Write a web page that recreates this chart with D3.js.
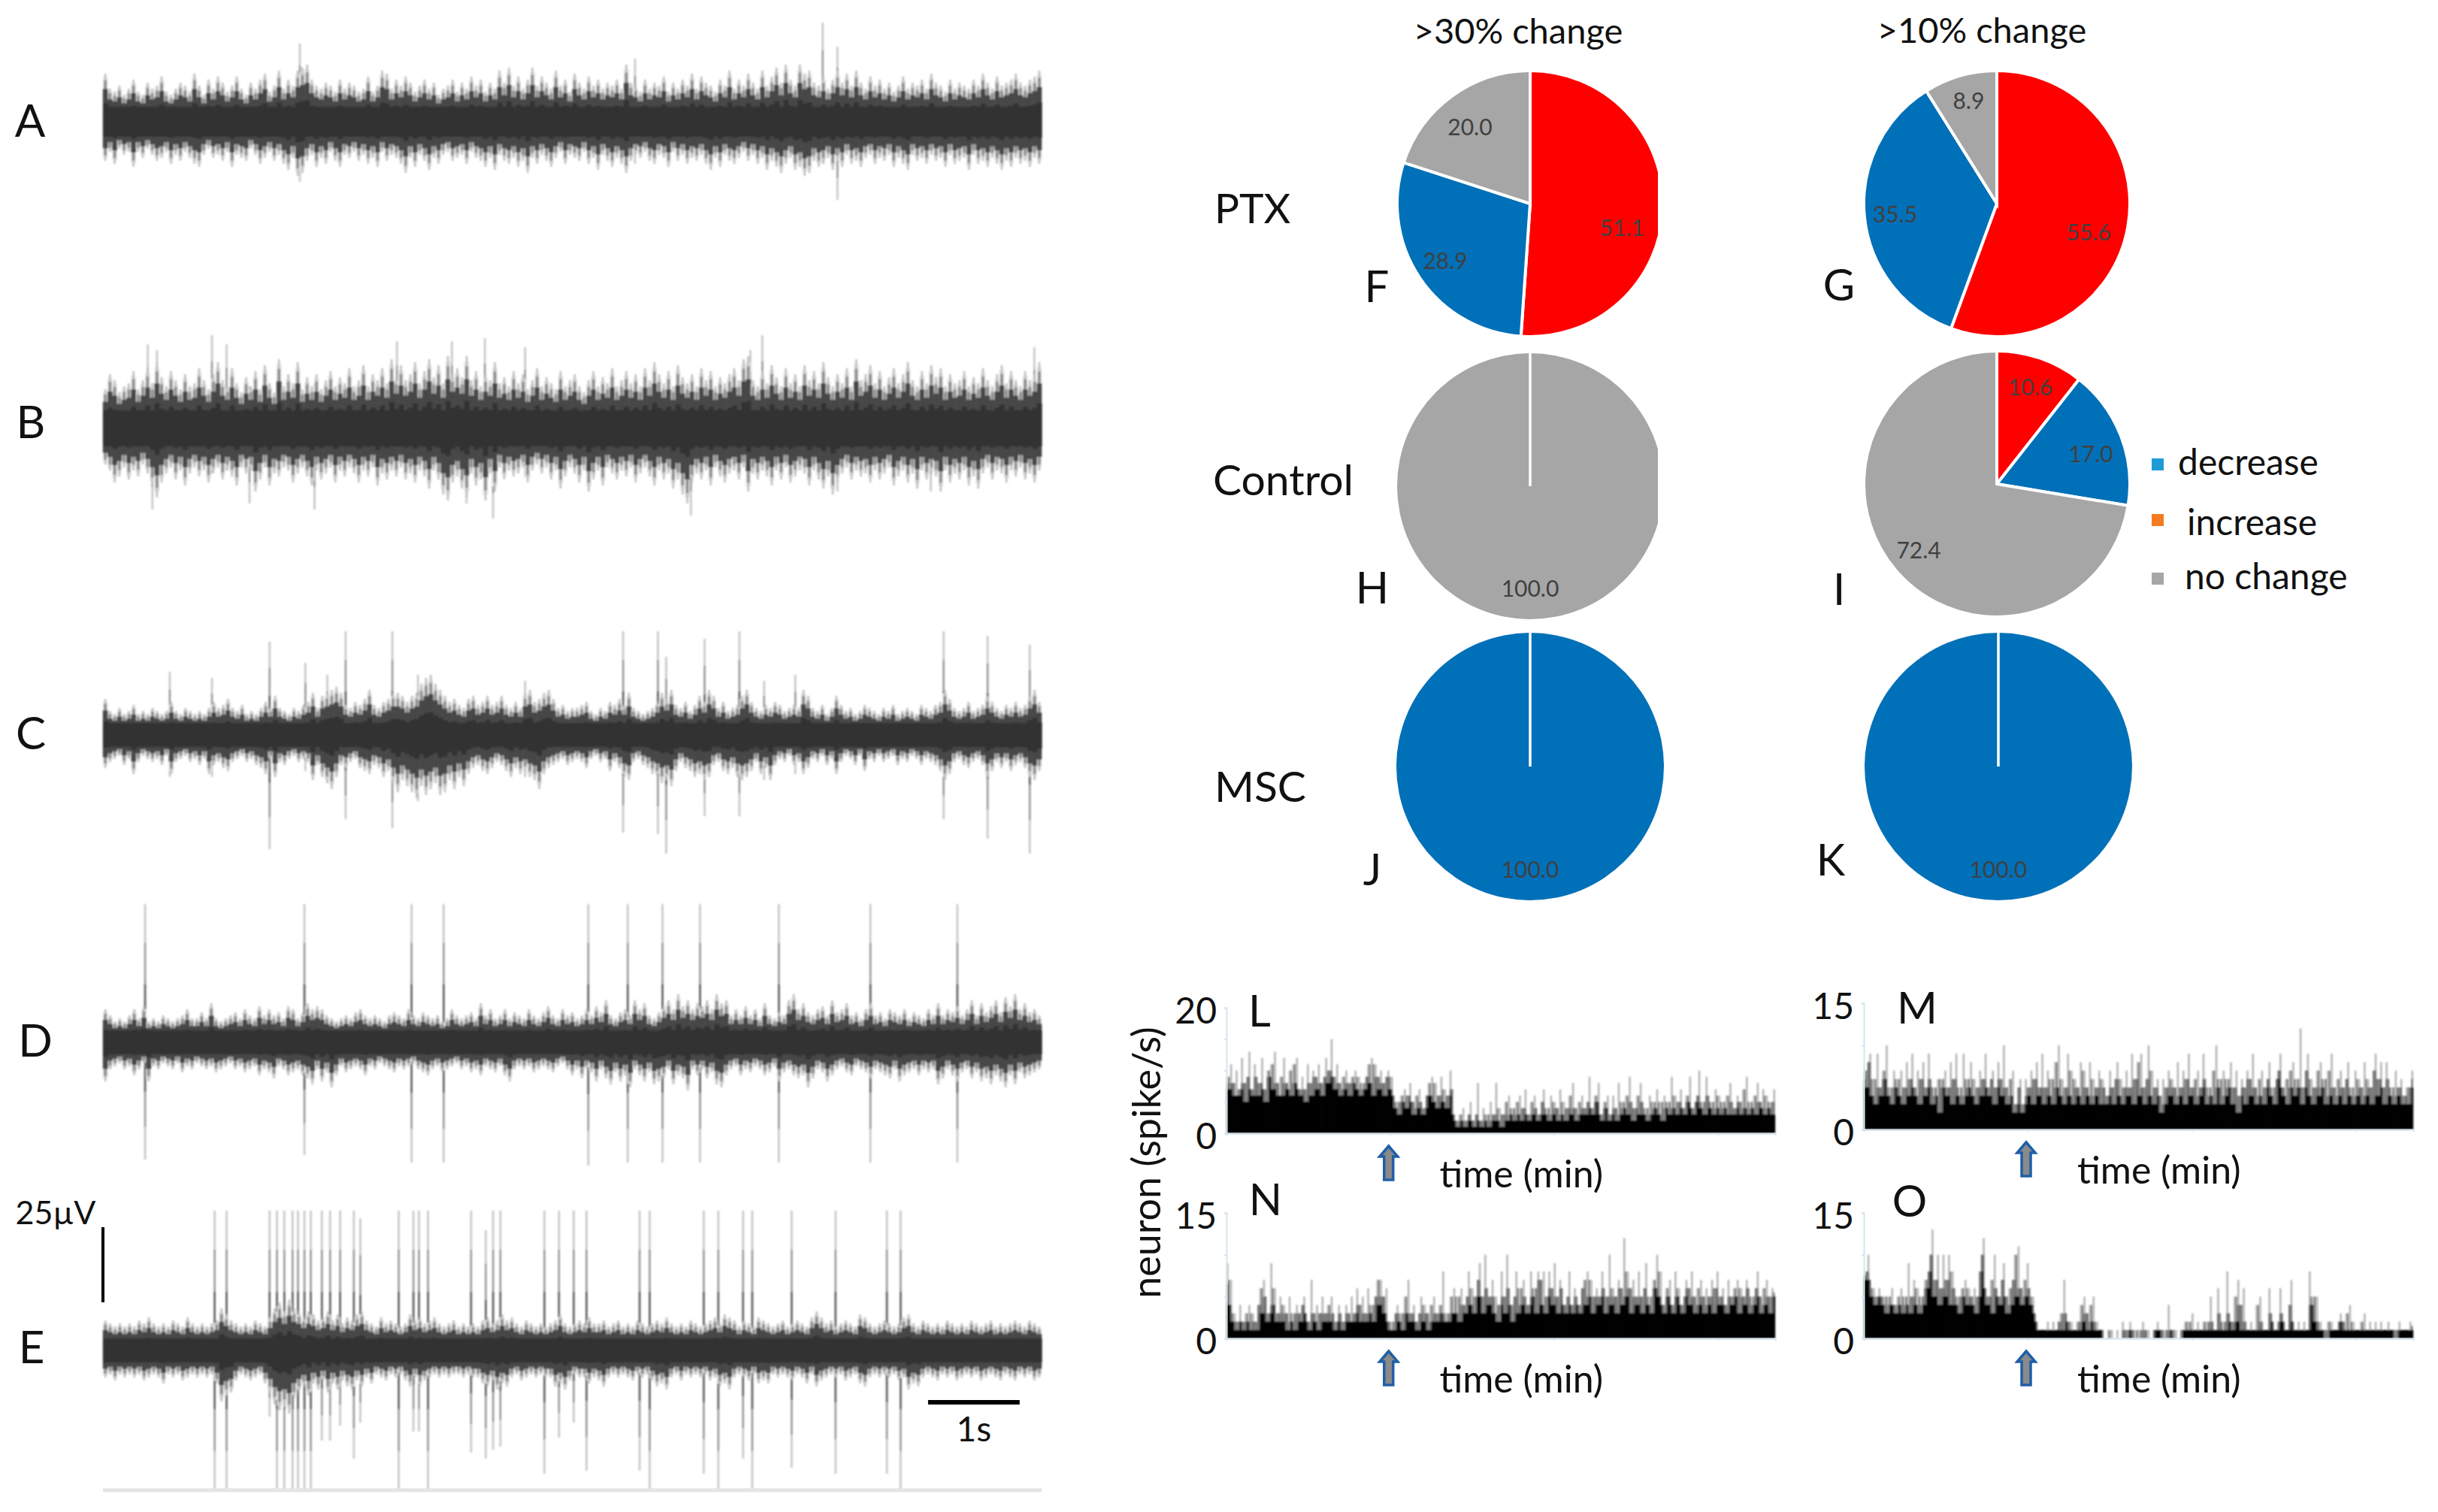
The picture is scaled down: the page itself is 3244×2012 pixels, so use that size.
<!DOCTYPE html>
<html lang="en">

<head>
    <meta charset="UTF-8">
    <title>Spike traces, response pies and firing rate histograms</title>
    <script src="https://d3js.org/d3.v7.min.js"></script>
    <style>
        body {
            margin: 0;
            background: #fff;
        }

        text {
            font-family: Lato, "Open Sans", sans-serif;
            fill: #111;
        }
    </style>
</head>

<body>

    <script>
        // Voltage traces: peak of the noise per time bin above and below the baseline (uV)
        const traceAUp = [
            16, 11, 10, 12, 9, 11, 14, 10, 9, 13, 11, 12, 15, 10, 9, 11, 13, 12, 10, 16, 12, 9, 14, 11, 15,
            13, 10, 12, 15, 11, 9, 13, 11, 14, 16, 10, 12, 17, 11, 14, 12, 17, 18, 19, 14, 12, 11, 13, 12, 10,
            14, 11, 13, 12, 10, 11, 15, 10, 12, 17, 16, 11, 14, 12, 15, 13, 10, 12, 14, 11, 13, 9, 11, 12, 14,
            10, 13, 11, 15, 12, 14, 10, 13, 11, 17, 13, 18, 12, 15, 11, 14, 18, 12, 15, 13, 11, 17, 12, 14, 10,
            16, 13, 11, 15, 12, 14, 11, 13, 12, 14, 11, 19, 13, 12, 10, 14, 11, 13, 12, 15, 10, 13, 11, 14, 12,
            16, 11, 15, 13, 12, 10, 14, 12, 17, 11, 14, 12, 16, 13, 11, 17, 12, 15, 18, 13, 19, 14, 12, 19, 16,
            17, 13, 12, 15, 11, 14, 17, 13, 16, 12, 17, 13, 11, 15, 12, 14, 11, 13, 10, 12, 15, 11, 13, 12, 14,
            11, 16, 13, 12, 10, 14, 11, 13, 12, 11, 14, 12, 16, 13, 11, 15, 12, 13, 14, 16, 13, 12, 14, 15, 17
        ];
        const traceADown = [
            13, 10, 14, 9, 11, 10, 15, 10, 12, 9, 11, 13, 12, 10, 14, 11, 13, 10, 12, 14, 15, 11, 9, 12, 11,
            13, 10, 15, 11, 12, 13, 9, 11, 14, 12, 10, 13, 11, 14, 16, 12, 18, 17, 13, 11, 15, 12, 14, 10, 13,
            15, 11, 12, 10, 13, 11, 14, 12, 15, 10, 13, 11, 12, 14, 17, 12, 15, 11, 13, 16, 12, 14, 11, 10, 13,
            12, 11, 14, 10, 12, 13, 15, 12, 16, 11, 13, 14, 12, 15, 13, 17, 12, 14, 11, 13, 15, 12, 10, 14, 11,
            12, 13, 10, 14, 12, 16, 11, 13, 15, 12, 14, 17, 13, 11, 12, 10, 13, 14, 11, 12, 15, 10, 13, 11, 14,
            12, 13, 11, 14, 16, 12, 15, 11, 13, 14, 12, 10, 13, 11, 14, 12, 16, 13, 15, 17, 14, 12, 16, 15, 18,
            17, 13, 15, 14, 12, 16, 13, 15, 11, 14, 13, 15, 12, 11, 14, 12, 13, 11, 15, 12, 14, 16, 11, 13, 12,
            14, 11, 13, 12, 15, 11, 14, 13, 12, 16, 11, 14, 13, 15, 12, 14, 16, 13, 15, 12, 14, 13, 15, 12, 14
        ];
        const traceBUp = [
            13, 18, 16, 12, 14, 15, 19, 13, 16, 20, 15, 22, 17, 14, 19, 16, 13, 18, 14, 15, 20, 16, 13, 18, 22,
            16, 14, 20, 15, 12, 17, 14, 19, 13, 21, 15, 12, 23, 14, 18, 15, 22, 13, 17, 14, 18, 13, 16, 19, 14,
            17, 15, 20, 14, 16, 21, 14, 18, 16, 20, 15, 23, 17, 21, 16, 18, 22, 15, 19, 23, 17, 21, 15, 24, 18,
            20, 17, 24, 16, 19, 14, 18, 16, 22, 15, 17, 14, 19, 15, 18, 13, 16, 20, 14, 17, 15, 13, 19, 14, 16,
            18, 14, 12, 16, 19, 14, 17, 15, 20, 14, 16, 19, 15, 18, 14, 20, 16, 22, 18, 15, 19, 14, 21, 17, 15,
            18, 14, 20, 16, 19, 14, 17, 15, 18, 20, 16, 23, 24, 16, 14, 19, 15, 21, 17, 14, 20, 15, 18, 14, 21,
            16, 19, 15, 22, 17, 14, 18, 15, 20, 14, 23, 16, 18, 21, 15, 19, 14, 17, 20, 15, 18, 22, 16, 14, 19,
            15, 21, 17, 20, 14, 18, 15, 16, 19, 14, 17, 15, 20, 16, 14, 18, 21, 15, 19, 16, 14, 19, 16, 18, 22
        ];
        const traceBDown = [
            12, 14, 18, 16, 13, 17, 14, 16, 12, 15, 19, 23, 18, 15, 13, 17, 14, 19, 15, 13, 16, 14, 18, 15, 13,
            17, 14, 16, 19, 13, 15, 14, 21, 17, 13, 19, 15, 16, 13, 14, 18, 15, 13, 16, 19, 14, 17, 15, 13, 18,
            14, 16, 13, 15, 18, 14, 16, 13, 19, 15, 17, 14, 16, 13, 17, 15, 18, 14, 16, 20, 14, 17, 22, 24, 18,
            16, 20, 23, 15, 19, 17, 24, 15, 21, 13, 17, 14, 16, 15, 13, 18, 14, 12, 15, 13, 17, 14, 20, 16, 13,
            15, 18, 14, 21, 17, 14, 19, 13, 15, 17, 14, 16, 13, 18, 15, 13, 16, 19, 14, 17, 15, 20, 17, 22, 25,
            18, 15, 17, 14, 19, 13, 16, 18, 15, 14, 17, 13, 21, 15, 17, 14, 16, 19, 14, 17, 13, 18, 16, 14, 15,
            19, 14, 17, 20, 16, 22, 18, 15, 13, 17, 14, 16, 15, 18, 14, 17, 15, 13, 19, 16, 14, 18, 15, 20, 14,
            17, 15, 16, 21, 14, 18, 15, 17, 14, 19, 16, 20, 15, 13, 17, 14, 15, 18, 14, 16, 13, 17, 15, 18, 14
        ];
        const traceCUp = [
            12, 8, 7, 9, 7, 8, 10, 7, 8, 7, 9, 8, 7, 8, 11, 8, 7, 9, 8, 7, 8, 7, 9, 11, 9,
            10, 12, 9, 8, 10, 7, 8, 7, 9, 11, 9, 13, 9, 8, 7, 9, 8, 10, 11, 14, 9, 13, 14, 15, 16,
            14, 10, 9, 11, 10, 12, 15, 10, 9, 11, 12, 14, 14, 13, 11, 13, 14, 17, 19, 20, 17, 15, 13, 11, 12,
            10, 9, 12, 13, 10, 11, 13, 10, 11, 13, 10, 9, 11, 9, 14, 15, 11, 12, 14, 15, 12, 9, 10, 8, 9,
            9, 10, 11, 8, 7, 9, 8, 11, 10, 12, 10, 14, 9, 8, 7, 8, 9, 11, 14, 12, 15, 10, 9, 11, 8, 10, 13,
            11, 15, 13, 9, 11, 8, 9, 10, 13, 15, 11, 9, 8, 10, 9, 11, 10, 8, 9, 10, 9, 15, 13, 9, 8, 10, 7,
            9, 13, 10, 8, 9, 7, 8, 10, 9, 8, 7, 9, 8, 10, 7, 8, 9, 8, 7, 10, 9, 8, 10, 11, 15,
            12, 9, 8, 9, 11, 8, 9, 10, 13, 11, 9, 8, 10, 9, 11, 9, 10, 13, 15, 11
        ];
        const traceCDown = [
            11, 9, 8, 7, 10, 8, 13, 9, 7, 8, 9, 8, 10, 7, 13, 9, 8, 7, 9, 8, 10, 8, 13, 10, 9,
            11, 12, 9, 8, 7, 9, 8, 10, 11, 13, 8, 14, 9, 10, 8, 7, 9, 8, 9, 15, 10, 14, 16, 18, 14,
            10, 11, 9, 8, 11, 12, 13, 10, 11, 14, 12, 16, 19, 15, 17, 19, 21, 17, 20, 18, 16, 20, 19, 15, 18,
            14, 17, 13, 11, 10, 12, 13, 11, 9, 10, 12, 14, 11, 13, 12, 14, 15, 18, 13, 11, 10, 9, 8, 10, 9,
            8, 9, 11, 8, 7, 9, 8, 12, 9, 11, 14, 15, 9, 8, 10, 11, 13, 14, 16, 15, 17, 12, 9, 11, 12, 14, 13,
            15, 14, 10, 9, 12, 13, 11, 14, 15, 14, 12, 9, 13, 11, 15, 10, 8, 9, 7, 10, 9, 13, 11, 8, 9, 7, 10,
            8, 13, 9, 7, 8, 10, 7, 12, 8, 9, 7, 9, 8, 7, 10, 8, 9, 7, 8, 10, 8, 9, 10, 12, 15,
            13, 9, 8, 10, 11, 9, 8, 10, 14, 12, 9, 11, 9, 12, 10, 9, 11, 14, 15, 12
        ];
        const traceDUp = [
            11, 9, 7, 8, 7, 9, 11, 8, 12, 7, 8, 7, 9, 8, 7, 8, 9, 11, 8, 8, 10, 8, 13, 8, 7,
            8, 9, 10, 8, 11, 9, 8, 12, 9, 11, 9, 10, 8, 12, 11, 8, 10, 13, 11, 12, 11, 9, 8, 7, 8,
            9, 8, 10, 11, 9, 8, 9, 8, 7, 9, 10, 9, 8, 11, 9, 8, 10, 9, 8, 9, 7, 8, 11, 9, 8,
            9, 10, 8, 13, 9, 11, 8, 9, 11, 8, 10, 9, 8, 11, 9, 8, 10, 12, 9, 8, 11, 9, 10, 8, 9,
            11, 9, 12, 10, 14, 9, 8, 10, 11, 9, 14, 11, 13, 9, 8, 10, 12, 14, 11, 16, 12, 14, 11, 13, 12,
            14, 11, 16, 13, 14, 9, 11, 9, 12, 9, 11, 8, 13, 9, 8, 10, 9, 14, 16, 11, 13, 10, 9, 11, 12,
            9, 14, 10, 11, 13, 9, 10, 8, 11, 13, 9, 10, 8, 11, 10, 9, 11, 8, 10, 9, 8, 11, 9, 13, 9,
            11, 10, 12, 9, 11, 14, 9, 13, 10, 12, 14, 10, 15, 12, 16, 11, 13, 10, 11, 9
        ];
        const traceDDown = [
            13, 9, 8, 7, 9, 8, 11, 9, 7, 13, 8, 9, 7, 8, 9, 7, 10, 8, 9, 7, 8, 9, 8, 10, 9,
            8, 7, 9, 8, 10, 9, 8, 11, 9, 10, 12, 8, 9, 11, 10, 9, 11, 12, 14, 9, 13, 10, 15, 11, 8,
            10, 9, 8, 9, 11, 8, 9, 7, 8, 9, 10, 8, 9, 8, 7, 9, 10, 11, 9, 8, 10, 9, 8, 7, 9,
            8, 10, 9, 11, 8, 9, 10, 8, 11, 13, 9, 8, 9, 8, 10, 9, 8, 9, 10, 8, 7, 9, 11, 9, 12,
            9, 10, 13, 9, 12, 14, 10, 13, 11, 15, 9, 11, 13, 10, 14, 13, 12, 9, 14, 11, 12, 16, 9, 11, 9,
            12, 10, 14, 15, 11, 9, 8, 11, 9, 10, 8, 9, 11, 10, 8, 13, 10, 9, 11, 12, 11, 15, 12, 9, 10,
            13, 11, 9, 8, 10, 11, 8, 9, 10, 12, 9, 10, 11, 12, 9, 13, 11, 10, 9, 11, 9, 10, 9, 14, 12,
            9, 11, 13, 10, 9, 12, 10, 13, 12, 14, 11, 13, 15, 11, 14, 10, 12, 11, 10, 9
        ];
        const traceEUp = [
            10, 9, 8, 9, 8, 9, 8, 10, 9, 11, 9, 8, 9, 8, 10, 9, 8, 11, 9, 8, 9, 8, 9, 10, 14, 12, 10, 9,
            8, 9, 8, 10, 9, 8, 11, 14, 16, 13, 17, 14, 13, 11, 13, 12, 10, 11, 13, 10, 12, 9, 11, 10, 12, 13,
            10, 9, 8, 11, 9, 10, 9, 8, 9, 12, 10, 11, 9, 10, 11, 9, 8, 9, 10, 8, 9, 8, 9, 8, 10,
            11, 9, 10, 12, 10, 11, 9, 8, 10, 9, 8, 9, 8, 9, 10, 12, 9, 8, 9, 10, 9, 11, 9, 9, 10, 8,
            9, 10, 8, 9, 8, 10, 9, 8, 9, 10, 9, 11, 9, 8, 9, 8, 10, 9, 8, 9, 10, 11, 9, 12, 11, 10,
            8, 10, 9, 8, 11, 10, 9, 8, 9, 10, 8, 9, 10, 9, 8, 11, 13, 11, 9, 10, 8, 9, 10, 9, 8, 12, 11,
            9, 8, 9, 10, 9, 8, 9, 11, 12, 9, 8, 10, 9, 8, 9, 8, 10, 9, 8, 9, 8, 10, 9, 8, 9, 10, 8,
            9, 8, 9, 10, 9, 8, 10, 9, 8
        ];
        const traceEDown = [
            9, 8, 10, 8, 9, 8, 9, 8, 10, 9, 8, 9, 11, 8, 9, 8, 10, 9, 8, 9, 8, 9, 8, 11, 17, 15, 14, 10,
            8, 9, 10, 9, 8, 11, 14, 18, 20, 19, 21, 16, 14, 12, 15, 11, 13, 10, 14, 11, 13, 10, 12, 13, 10, 12,
            9, 11, 8, 9, 10, 8, 9, 8, 10, 12, 9, 12, 10, 9, 8, 9, 8, 9, 8, 8, 9, 8, 9, 9, 11,
            12, 10, 13, 11, 12, 9, 8, 10, 9, 8, 9, 8, 9, 9, 12, 11, 13, 10, 8, 9, 9, 11, 9, 10, 12, 9,
            8, 9, 8, 9, 10, 8, 9, 8, 10, 12, 11, 13, 9, 8, 10, 8, 9, 8, 9, 8, 10, 9, 12, 11, 13, 9,
            8, 9, 10, 8, 11, 10, 11, 8, 9, 8, 9, 10, 8, 9, 11, 8, 12, 10, 9, 8, 9, 8, 10, 9, 8, 11, 12,
            9, 8, 9, 8, 9, 8, 10, 9, 13, 11, 12, 9, 8, 9, 10, 8, 9, 8, 10, 9, 8, 9, 8, 10, 9, 8, 9,
            10, 8, 9, 10, 8, 9, 8, 10, 9
        ];

        // Spikes over the noise: [time s, height above uV, depth below uV]
        const spikesA = [[2.15, 26, 20], [5.81, 21, 14], [7.86, 33, 14], [8.02, 25, 26]];
        const spikesB = [[0.49, 28, 14], [0.54, 14, 27], [0.59, 26, 16], [1.19, 31, 15], [1.35, 28, 14], [1.60, 14, 25],
            [2.31, 15, 27], [3.21, 29, 15], [3.81, 29, 15], [3.97, 15, 25], [4.17, 30, 16], [4.26, 15, 30], [4.61, 27, 16],
            [6.42, 16, 29], [7.07, 26, 15], [7.20, 31, 14], [8.02, 15, 21], [9.04, 14, 21], [10.17, 27, 14]];
        const spikesC = [[0.73, 21, 14], [1.19, 19, 14], [1.82, 31, 38], [2.21, 24, 12], [2.45, 20, 16], [2.65, 34.5, 28],
            [3.16, 34.5, 31], [3.44, 20, 22], [4.61, 18, 14], [5.68, 34.5, 32.5], [6.06, 34.5, 33], [6.15, 26, 39.5],
            [6.57, 32, 27], [6.95, 34.5, 27], [7.22, 18, 15], [7.56, 20, 13], [9.18, 34.5, 28], [9.66, 33, 34.5], [10.12, 30, 39.5]];
        const spikesD = [[0.46, 46, 39], [2.20, 46, 37.5], [3.37, 46, 40], [3.72, 46, 40], [5.30, 46, 41], [5.73, 46, 40],
            [6.11, 46, 40], [6.52, 46, 40], [7.38, 46, 40], [8.38, 46, 40], [9.33, 46, 40]];
        const spikesE = [[1.22, 46.5, 46.5], [1.35, 46.5, 46.5], [1.82, 46.5, 22], [1.90, 46.5, 46.5], [1.98, 46.5, 46.5],
            [2.07, 46.5, 46.5], [2.13, 46.5, 46.5], [2.20, 46.5, 46.5], [2.27, 46.5, 46.5], [2.39, 46.5, 30], [2.48, 46.5, 30],
            [2.59, 46.5, 25], [2.74, 46.5, 36], [2.81, 44, 24], [3.23, 46.5, 46.5], [3.39, 46.5, 27], [3.45, 46.5, 27],
            [3.55, 46.5, 46.5], [4.02, 46.5, 34], [4.18, 40, 36], [4.26, 46.5, 33], [4.34, 46.5, 32], [4.82, 46.5, 41],
            [4.98, 46.5, 29], [5.14, 46.5, 24], [5.28, 46.5, 40], [5.86, 46.5, 40], [5.97, 46.5, 46.5], [6.56, 46.5, 41],
            [6.72, 46.5, 46.5], [6.99, 46.5, 36], [7.09, 46.5, 46.5], [7.52, 46.5, 39], [8.00, 46.5, 41], [8.56, 46.5, 41],
            [8.71, 46.5, 46.5]];

        // Pie values in percent: increase (red), decrease (blue), no change (grey)
        const pieCategories = ['increase', 'decrease', 'no change'];
        const pieF = [51.1, 28.9, 20.0];
        const pieG = [55.6, 35.5, 8.9];
        const pieH = [0, 0, 100.0];
        const pieI = [10.6, 17.0, 72.4];
        const pieJ = [0, 100.0, 0];
        const pieK = [0, 100.0, 0];
        const legendLabels = ['decrease', 'increase', 'no change'];
        const legendColors = ['#1e9bd7', '#f47b20', '#a6a6a6'];

        // Firing rate histograms (spike/s per time bin)
        const rateL = [
            9, 7, 11, 8, 6, 10, 6, 7, 12, 8, 5, 9, 13, 7, 6, 11, 9, 6, 8, 12, 7, 5, 10, 9, 11, 7, 13, 8, 6, 9,
            6, 12, 8, 7, 10, 6, 11, 8, 12, 7, 6, 9, 7, 5, 11, 8, 6, 10, 9, 7, 11, 8, 6, 9, 12, 8, 10, 15, 9, 7,
            11, 8, 6, 9, 7, 10, 8, 6, 9, 8, 10, 7, 9, 6, 8, 7, 9, 11, 8, 12, 6, 11, 9, 7, 10, 8, 6, 9, 10, 7,
            9, 6, 4, 5, 3, 6, 5, 7, 4, 6, 8, 5, 3, 6, 4, 7, 5, 3, 4, 6, 8, 6, 9, 5, 8, 4, 6, 9, 5, 7,
            4, 6, 10, 7, 3, 2, 1, 3, 2, 4, 1, 2, 3, 5, 2, 1, 3, 8, 2, 1, 4, 2, 3, 1, 5, 2, 3, 8, 2, 4,
            1, 3, 5, 2, 6, 3, 4, 2, 5, 3, 6, 2, 4, 7, 3, 2, 5, 3, 6, 4, 2, 3, 5, 7, 3, 4, 2, 6, 3, 5,
            4, 2, 7, 3, 5, 2, 4, 6, 3, 8, 4, 2, 5, 3, 6, 4, 3, 5, 9, 4, 3, 6, 5, 8, 3, 2, 5, 4, 6, 2,
            3, 6, 4, 2, 8, 3, 5, 4, 6, 3, 9, 5, 2, 4, 6, 3, 8, 5, 3, 4, 2, 6, 3, 5, 4, 7, 3, 5, 2, 6,
            4, 5, 3, 9, 4, 6, 3, 5, 7, 4, 3, 6, 5, 9, 4, 3, 5, 6, 10, 4, 5, 3, 9, 6, 4, 5, 3, 7, 4, 6,
            3, 5, 4, 6, 3, 8, 5, 3, 4, 6, 5, 3, 7, 4, 9, 3, 5, 4, 6, 3, 8, 5, 4, 7, 3, 6, 4, 5, 3, 7
        ];
        const rateM = [
            7, 5, 8, 9, 4, 6, 3, 9, 5, 4, 7, 6, 10, 4, 5, 3, 7, 5, 6, 4, 7, 3, 5, 8, 4, 6, 9, 5, 4, 7,
            3, 6, 8, 4, 5, 9, 6, 3, 5, 4, 6, 2, 6, 5, 7, 4, 5, 8, 3, 6, 9, 4, 5, 3, 9, 4, 6, 5, 8, 4,
            6, 3, 5, 7, 4, 6, 9, 5, 4, 6, 7, 3, 5, 8, 6, 4, 10, 5, 3, 6, 4, 7, 2, 3, 5, 6, 2, 3, 6, 4,
            5, 7, 3, 6, 8, 4, 5, 9, 3, 5, 7, 4, 6, 3, 8, 5, 10, 4, 6, 3, 5, 9, 4, 7, 3, 6, 5, 4, 8, 3,
            7, 5, 4, 8, 3, 6, 4, 5, 7, 3, 6, 5, 3, 4, 7, 5, 3, 6, 8, 4, 6, 3, 5, 7, 4, 5, 9, 3, 6, 8,
            4, 9, 5, 3, 6, 10, 4, 7, 3, 5, 6, 4, 2, 6, 3, 5, 7, 4, 6, 5, 3, 8, 4, 5, 7, 3, 6, 9, 4, 5,
            6, 3, 7, 4, 5, 9, 6, 3, 5, 4, 7, 3, 10, 5, 6, 3, 7, 4, 6, 5, 8, 3, 5, 7, 2, 4, 6, 5, 3, 7,
            6, 4, 9, 5, 3, 6, 4, 7, 3, 5, 6, 8, 4, 5, 3, 6, 7, 9, 5, 4, 6, 3, 7, 5, 8, 4, 6, 5, 12, 3,
            5, 7, 9, 4, 6, 3, 5, 7, 4, 8, 5, 6, 3, 7, 4, 9, 5, 3, 6, 4, 7, 5, 3, 6, 8, 4, 5, 3, 7, 4,
            6, 5, 3, 8, 4, 6, 5, 3, 7, 9, 4, 6, 8, 5, 3, 8, 6, 4, 5, 3, 7, 4, 5, 6, 3, 4, 5, 3, 5, 7
        ];
        const rateN = [
            9, 4, 7, 2, 3, 1, 2, 4, 2, 1, 3, 2, 4, 1, 3, 2, 1, 4, 6, 3, 7, 5, 2, 3, 9, 4, 6, 2, 3, 5,
            2, 4, 3, 1, 5, 2, 3, 1, 4, 3, 2, 4, 5, 3, 2, 1, 7, 3, 2, 4, 1, 3, 5, 2, 3, 4, 2, 5, 3, 1,
            2, 4, 3, 1, 2, 4, 3, 2, 5, 2, 3, 6, 4, 2, 5, 3, 2, 6, 3, 4, 2, 5, 7, 4, 7, 5, 3, 6, 2, 1,
            2, 1, 3, 4, 2, 3, 1, 5, 3, 7, 2, 3, 4, 2, 1, 3, 5, 2, 4, 3, 1, 4, 2, 5, 3, 2, 4, 3, 8, 2,
            3, 2, 5, 3, 6, 3, 5, 2, 6, 4, 3, 5, 8, 4, 6, 3, 5, 7, 9, 5, 3, 10, 6, 4, 5, 7, 3, 5, 2, 4,
            8, 5, 3, 10, 6, 4, 2, 5, 8, 3, 6, 4, 7, 5, 3, 4, 8, 5, 6, 3, 8, 7, 4, 8, 3, 5, 8, 6, 4, 9,
            5, 3, 7, 6, 4, 3, 5, 8, 4, 3, 6, 5, 4, 3, 6, 7, 4, 8, 5, 7, 3, 5, 6, 4, 5, 8, 6, 3, 5, 10,
            4, 6, 5, 3, 7, 6, 4, 12, 5, 8, 6, 3, 7, 5, 4, 8, 5, 3, 6, 9, 4, 5, 3, 7, 6, 10, 5, 8, 4, 3,
            6, 5, 7, 4, 3, 8, 5, 6, 4, 3, 5, 7, 6, 4, 8, 5, 3, 6, 4, 7, 5, 3, 6, 4, 5, 7, 3, 6, 8, 4,
            5, 6, 4, 3, 7, 5, 4, 6, 5, 7, 3, 6, 5, 4, 7, 6, 3, 5, 4, 6, 8, 5, 3, 6, 4, 7, 5, 3, 6, 5
        ];
        const rateO = [
            7, 8, 10, 7, 5, 6, 4, 5, 6, 5, 4, 5, 3, 5, 4, 6, 4, 3, 5, 4, 6, 3, 5, 4, 9, 3, 5, 7, 4, 6,
            3, 5, 4, 7, 6, 8, 10, 13, 5, 7, 10, 4, 6, 10, 5, 7, 10, 4, 8, 6, 4, 5, 3, 6, 5, 7, 4, 6, 5, 4,
            6, 3, 5, 8, 10, 12, 6, 4, 5, 7, 3, 10, 6, 5, 4, 7, 9, 5, 3, 6, 4, 7, 10, 5, 11, 6, 4, 7, 5, 9,
            6, 4, 5, 3, 2, 1, 1, 1, 1, 1, 2, 1, 1, 2, 1, 1, 2, 3, 1, 7, 3, 2, 1, 2, 1, 1, 2, 1, 4, 2,
            5, 3, 1, 4, 2, 5, 1, 2, 1, 1, 1, 0, 0, 1, 0, 1, 0, 0, 1, 0, 0, 2, 1, 0, 1, 2, 1, 0, 1, 0,
            1, 0, 2, 1, 0, 1, 0, 0, 1, 1, 2, 1, 1, 0, 1, 0, 4, 1, 1, 0, 1, 0, 0, 1, 1, 2, 1, 2, 1, 3,
            1, 1, 2, 1, 1, 2, 1, 2, 1, 5, 2, 1, 1, 6, 3, 1, 2, 1, 8, 3, 2, 1, 5, 2, 7, 4, 1, 6, 2, 1,
            1, 2, 1, 1, 4, 1, 5, 2, 1, 1, 1, 6, 3, 2, 1, 1, 2, 6, 3, 2, 1, 1, 4, 7, 2, 1, 1, 2, 1, 1,
            2, 1, 1, 8, 4, 5, 2, 5, 1, 2, 1, 1, 0, 2, 1, 2, 1, 1, 1, 2, 3, 2, 1, 3, 1, 4, 1, 2, 1, 1,
            1, 2, 1, 3, 1, 1, 2, 1, 1, 2, 1, 1, 2, 1, 1, 1, 2, 1, 1, 1, 0, 1, 2, 1, 1, 1, 1, 1, 2, 1
        ];
        const rateTimeTicks = [0, 10, 20, 30];
        const rateArrowTime = 9.9;

        const width = 3244;
        const height = 2012;
        const traceDark = '#333';

        const svg = d3.select('body').append('svg')
            .attr('width', width)
            .attr('height', height);

        // the source is a soft raster, so the dense marks get a small blur
        const defs = svg.append('defs');
        defs.append('filter').attr('id', 'soft')
            .attr('x', '-2%').attr('y', '-5%').attr('width', '104%').attr('height', '110%')
            .append('feGaussianBlur').attr('stdDeviation', 0.9);

        // ---- voltage traces ----
        const timeScale = d3.scaleLinear().domain([0, 10.25]).range([137, 1386]);

        function drawTrace(label, labelX, labelY, cy, core, up, down, spikes) {
            const y = d3.scaleLinear().domain([-46.5, 46.5]).range([cy + 186, cy - 186]);
            const g = svg.append('g').attr('filter', 'url(#soft)');

            // spikes first, the noise band sits on top of them
            const spikeLayers = [
                { k: 1, w: 2.6, c: '#c6c6c6' },
                { k: 0.72, w: 2.4, c: '#9a9a9a' },
                { k: 0.42, w: 2.6, c: '#666' }
            ];
            spikeLayers.forEach(l => {
                g.selectAll(null).data(spikes).enter().append('line')
                    .attr('x1', d => timeScale(d[0])).attr('x2', d => timeScale(d[0]))
                    .attr('y1', d => y(d[1] * l.k)).attr('y2', d => y(-d[2] * l.k))
                    .attr('stroke', l.c).attr('stroke-width', l.w);
            });

            const band = d3.scaleBand().domain(d3.range(up.length)).range(timeScale.range());
            const step = band.bandwidth();
            const layers = [
                { k: 0.92, w: step + 0.5, c: '#e6e6e6' },
                { k: 1, w: 2.6, c: '#bdbdbd' },
                { k: 0.86, w: step * 0.6, c: '#8a8a8a' },
                { k: 0.68, w: step + 0.5, c: '#474747' }
            ];
            layers.forEach(l => {
                g.selectAll(null).data(up).enter().append('rect')
                    .attr('x', (d, i) => band(i) + (step - l.w) / 2)
                    .attr('width', l.w)
                    .attr('y', d => y(d * l.k))
                    .attr('height', d => y(0) - y(d * l.k))
                    .attr('fill', l.c);
                g.selectAll(null).data(down).enter().append('rect')
                    .attr('x', (d, i) => band(i) + (step - l.w) / 2)
                    .attr('width', l.w)
                    .attr('y', y(0))
                    .attr('height', d => y(-d * l.k) - y(0))
                    .attr('fill', l.c);
            });

            // solid core of the band
            g.selectAll(null).data(up).enter().append('rect')
                .attr('x', (d, i) => band(i))
                .attr('width', step + 0.5)
                .attr('y', d => y(Math.max(core, 0.38 * d)))
                .attr('height', (d, i) => y(-Math.max(core, 0.38 * down[i])) - y(Math.max(core, 0.38 * d)))
                .attr('fill', traceDark);

            svg.append('text').attr('x', labelX).attr('y', labelY)
                .attr('text-anchor', 'middle').attr('dy', '0.36em')
                .attr('font-size', 60).text(label);
            return y;
        }

        drawTrace('A', 40, 160, 162, 5, traceAUp, traceADown, spikesA);
        drawTrace('B', 41, 561, 570, 6, traceBUp, traceBDown, spikesB);
        drawTrace('C', 41, 975, 978, 4, traceCUp, traceCDown, spikesC);
        drawTrace('D', 47, 1384, 1387, 4, traceDUp, traceDDown, spikesD);
        const yE = drawTrace('E', 42, 1792, 1797, 4, traceEUp, traceEDown, spikesE);

        // saturated bottom of trace E
        svg.append('line')
            .attr('x1', timeScale(0)).attr('x2', timeScale(10.25))
            .attr('y1', yE(-46.5)).attr('y2', yE(-46.5))
            .attr('stroke', '#e4e4e4').attr('stroke-width', 5);

        // scale bars
        svg.append('line')
            .attr('x1', timeScale(0)).attr('x2', timeScale(0))
            .attr('y1', yE(41)).attr('y2', yE(16))
            .attr('stroke', '#000').attr('stroke-width', 4);
        svg.append('text').attr('x', 74).attr('y', 1629)
            .attr('text-anchor', 'middle').attr('font-size', 43).text('25µV');
        svg.append('line')
            .attr('x1', timeScale(9.01)).attr('x2', timeScale(10.01))
            .attr('y1', 1866).attr('y2', 1866)
            .attr('stroke', '#000').attr('stroke-width', 6);
        svg.append('text').attr('x', timeScale(9.51)).attr('y', 1918)
            .attr('text-anchor', 'middle').attr('font-size', 46).text('1s');

        // ---- pies ----
        const pieColors = d3.scaleOrdinal().domain(pieCategories).range(['#ff0000', '#0070b8', '#a6a6a6']);
        const pieLayout = d3.pie().sort(null);

        function drawPie(values, cx, cy, r, clipRight, nudge) {
            const g = svg.append('g').attr('transform', `translate(${cx},${cy})`);
            const arc = d3.arc().innerRadius(0).outerRadius(r);
            const labelArc = d3.arc().innerRadius(r * 0.77).outerRadius(r * 0.77);
            const slices = pieLayout(values).filter(d => d.value > 0);

            const sliceGroup = g.append('g');
            if (clipRight) {
                const id = 'clip' + cx + cy;
                svg.append('clipPath').attr('id', id).append('rect')
                    .attr('x', -r - 5).attr('y', -r - 5)
                    .attr('width', r + 5 + clipRight).attr('height', 2 * r + 10);
                sliceGroup.attr('clip-path', `url(#${id})`);
            }
            sliceGroup.selectAll('path').data(slices).enter().append('path')
                .attr('d', arc)
                .attr('fill', d => pieColors(pieCategories[d.index]))
                .attr('stroke', '#fff').attr('stroke-width', slices.length > 1 ? 4 : 0);
            if (slices.length === 1) {
                // the seam of a full circle
                sliceGroup.append('line')
                    .attr('x1', 0).attr('x2', 0).attr('y1', -r).attr('y2', 0)
                    .attr('stroke', '#fff').attr('stroke-width', 3.5);
            }
            g.selectAll('text').data(slices).enter().append('text')
                .attr('transform', d => {
                    const c = labelArc.centroid(d);
                    const n = nudge ? nudge[d.index] : [0, 0];
                    return `translate(${c[0] + n[0]},${c[1] + n[1]})`;
                })
                .attr('text-anchor', 'middle').attr('dy', '0.36em')
                .attr('font-size', 30)
                .style('fill', '#404040')
                .text(d => d.value.toFixed(1));
        }

        drawPie(pieF, 2036, 271, 177, 170, [[-14, 27], [0, 0], [0, 8]]);
        drawPie(pieG, 2657, 271, 177, null, [[-12, 14], [0, 0], [0, -6]]);
        drawPie(pieH, 2036, 647, 177, 170);
        drawPie(pieI, 2657, 644, 177, null, [[0, 0], [-2, 10], [0, 0]]);
        drawPie(pieJ, 2036, 1020, 178);
        drawPie(pieK, 2659, 1020, 178);

        const textLabels = [
            ['>30% change', 2020, 41, 'middle', 47], ['>10% change', 2637, 40, 'middle', 47],
            ['PTX', 1616, 277, 'start', 55], ['Control', 1614, 638, 'start', 57], ['MSC', 1616, 1046, 'start', 57],
            ['F', 1832, 381, 'middle', 58], ['G', 2447, 379, 'middle', 58], ['H', 1826, 782, 'middle', 58],
            ['I', 2447, 784, 'middle', 58], ['J', 1826, 1157, 'middle', 58], ['K', 2436, 1144, 'middle', 58],
            ['L', 1676, 1345, 'middle', 58], ['M', 2551, 1341, 'middle', 58], ['N', 1684, 1596, 'middle', 58], ['O', 2541, 1598, 'middle', 58]
        ];
        svg.selectAll('.lab').data(textLabels).enter().append('text')
            .attr('x', d => d[1]).attr('y', d => d[2])
            .attr('text-anchor', d => d[3]).attr('dy', '0.36em')
            .attr('font-size', d => d[4])
            .text(d => d[0]);

        // legend
        const legendY = [618, 692, 770];
        const legendTextY = [615, 695, 767];
        const legendTextX = [2898, 2910, 2907];
        svg.selectAll('.legendKey').data(legendLabels).enter().append('rect')
            .attr('x', 2863).attr('y', (d, i) => legendY[i] - 8)
            .attr('width', 16).attr('height', 16)
            .attr('fill', (d, i) => legendColors[i]);
        svg.selectAll('.legendText').data(legendLabels).enter().append('text')
            .attr('x', (d, i) => legendTextX[i]).attr('y', (d, i) => legendTextY[i])
            .attr('dy', '0.36em').attr('font-size', 48)
            .text(d => d);

        // ---- firing rate histograms ----
        function drawRate(values, x0, x1, y0, y1, top) {
            const g = svg.append('g').attr('filter', 'url(#soft)');
            const band = d3.scaleBand().domain(d3.range(values.length)).range([x0, x1]);
            const y = d3.scaleLinear().domain([0, top]).range([y0, y1]);
            const time = d3.scaleLinear().domain([0, 33.5]).range([x0, x1]);
            const step = band.bandwidth();

            const layers = [
                { f: d => d, c: '#b0b0b0', w: step },
                { f: (d, i, a) => d3.median(a.slice(Math.max(i - 1, 0), i + 2)), c: '#555', w: step * 0.7 },
                { f: (d, i, a) => d3.min(a.slice(Math.max(i - 1, 0), i + 2)), c: '#000', w: step + 0.2 }
            ];
            layers.forEach(l => {
                g.selectAll(null).data(values.map((d, i, a) => l.f(d, i, a))).enter().append('rect')
                    .attr('x', (d, i) => band(i))
                    .attr('width', l.w)
                    .attr('y', d => y(d))
                    .attr('height', d => y0 - y(d))
                    .attr('fill', l.c);
            });

            // pale axes
            const axisY = d3.axisLeft(y).tickValues(d3.range(0, top + 1, 5))
                .tickSize(3).tickPadding(10)
                .tickFormat(d => (d === 0 || d === top) ? d : '');
            const gy = svg.append('g').attr('transform', `translate(${x0},0)`).call(axisY);
            gy.selectAll('line,path').attr('stroke', '#d4e6ee').attr('stroke-width', 2);
            gy.selectAll('text').attr('font-size', 48).attr('font-family', 'Lato').attr('dy', '0.42em');

            const axisX = d3.axisBottom(time).tickValues(rateTimeTicks).tickSize(3).tickFormat('');
            const gx = svg.append('g').attr('transform', `translate(0,${y0})`).call(axisX);
            gx.selectAll('line,path').attr('stroke', '#d4e6ee').attr('stroke-width', 2);

            // application arrow
            const ax = time(rateArrowTime);
            const arrow = d3.path();
            arrow.moveTo(ax, y0 + 17);
            arrow.lineTo(ax + 12, y0 + 31);
            arrow.lineTo(ax + 6, y0 + 31);
            arrow.lineTo(ax + 6, y0 + 62);
            arrow.lineTo(ax - 6, y0 + 62);
            arrow.lineTo(ax - 6, y0 + 31);
            arrow.lineTo(ax - 12, y0 + 31);
            arrow.closePath();
            svg.append('path').attr('d', arrow.toString())
                .attr('fill', '#8a8a8a').attr('stroke', '#1f5fa8').attr('stroke-width', 3.5);

            svg.append('text').attr('x', time(18)).attr('y', y0 + 54)
                .attr('text-anchor', 'middle').attr('dy', '0.36em')
                .attr('font-size', 50).text('time (min)');
        }

        drawRate(rateL, 1632, 2362, 1508, 1341, 20);
        drawRate(rateM, 2480, 3211, 1503, 1335, 15);
        drawRate(rateN, 1632, 2362, 1781, 1614, 15);
        drawRate(rateO, 2480, 3211, 1781, 1614, 15);

        svg.append('text')
            .attr('transform', 'translate(1525,1547) rotate(-90)')
            .attr('text-anchor', 'middle').attr('dy', '0.36em')
            .attr('font-size', 52).text('neuron (spike/s)');

    </script>

</body>

</html>
